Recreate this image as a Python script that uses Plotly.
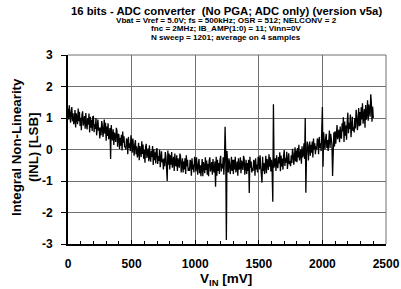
import numpy as np
import plotly.graph_objects as go

# Sweep input voltage (mV), 5 mV resolution of the reading
vin_start, vin_step, n_pts = 0, 5, 481
vin_mv = [vin_start + i * vin_step for i in range(n_pts)]

# INL values (LSB), 10 per 50 mV
inl_lsb = [
    1.30, 0.95, 1.40, 1.05, 0.85, 1.20, 1.35, 0.90, 1.15, 0.80,
    0.90, 1.25, 0.70, 1.15, 1.00, 0.80, 1.30, 0.90, 1.20, 0.75,
    1.01, 0.61, 1.11, 1.21, 0.76, 0.86, 1.06, 0.66, 1.16, 0.81,
    0.64, 0.99, 0.79, 1.14, 0.54, 1.04, 0.69, 0.94, 0.59, 1.04,
    1.05, 0.55, 0.80, 0.65, 1.00, 0.45, 0.90, 0.95, 0.60, 0.70,
    0.35, 0.70, 0.45, 0.90, 0.75, 0.40, 0.60, 0.95, 0.50, 0.85,
    0.28, 0.73, 0.43, 0.83, 0.33, 0.53, 0.68, -0.30, 0.78, 0.43,
    0.29, 0.64, 0.14, 0.54, 0.34, 0.24, 0.69, 0.59, 0.09, 0.49,
    0.47, 0.02, 0.37, 0.12, 0.47, -0.03, 0.57, 0.22, 0.42, 0.07,
    0.10, 0.00, 0.35, 0.30, -0.15, 0.40, 0.05, 0.20, -0.05, 0.45,
    0.25, -0.10, 0.35, 0.00, -0.20, 0.15, 0.30, -0.15, 0.10, -0.25,
    -0.14, 0.21, -0.34, 0.11, -0.04, -0.24, 0.26, -0.14, 0.16, -0.29,
    -0.02, -0.42, 0.08, 0.18, -0.27, -0.17, 0.03, -0.37, 0.13, -0.22,
    -0.39, -0.04, -0.24, 0.11, -0.49, 0.01, -0.34, -0.09, -0.44, 0.01,
    0.04, -0.46, -0.21, -0.36, -0.01, -0.56, -0.11, -0.06, -0.41, -0.31,
    -0.63, -0.28, -0.53, -0.08, -0.23, -0.58, -1.00, -0.03, -0.48, -0.13,
    -0.63, -0.18, -0.48, -0.08, -0.58, -0.38, -0.23, -0.68, -0.13, -0.48,
    -0.53, -0.18, -0.68, -0.28, -0.48, -0.58, -0.13, -0.23, -0.73, -0.33,
    -0.28, -0.73, -0.38, -0.63, -0.28, -0.78, -0.18, -0.53, -0.33, -0.68,
    -0.58, -0.68, -0.33, -0.38, -0.83, -0.28, -0.63, -0.48, -0.73, -0.23,
    -0.35, -0.70, -0.25, -0.60, -0.80, -0.45, -0.30, -0.75, -0.50, -0.85,
    -0.65, -0.30, -0.85, -0.40, -0.55, -0.75, -0.25, -0.65, -0.35, -0.80,
    -0.45, -0.85, -0.35, -0.25, -0.70, -0.60, -0.40, -0.80, -0.30, -0.65,
    -0.73, -0.38, -1.18, -0.23, -0.83, -0.33, -0.68, -0.43, -0.78, -0.33,
    -0.20, -0.70, -0.45, -0.60, -0.25, -0.80, -0.35, 0.72, -0.10, -2.87,
    -0.05, -0.48, -0.73, -0.28, -0.43, -0.78, -0.58, -0.23, -0.68, -0.33,
    -0.78, -0.33, -0.63, -0.23, -0.73, -0.53, -0.38, -0.83, -0.28, -0.63,
    -0.60, -0.25, -0.75, -0.35, -0.55, -0.65, -0.20, -0.30, -0.80, -0.40,
    -0.33, -0.78, -0.43, -0.68, -0.33, -1.38, -0.23, -0.58, -0.38, -0.73,
    -0.58, -0.68, -0.33, -0.38, -0.83, -0.28, -0.63, -0.48, -0.73, -0.23,
    -0.28, -0.63, -0.18, -0.53, -0.73, -1.05, -0.23, -0.68, -0.43, -0.78,
    -0.55, -0.20, -0.75, -0.30, -0.45, -0.65, -0.15, -0.55, -0.25, -0.70,
    -0.33, -0.73, -1.66, 1.44, -0.58, -0.48, -0.28, -0.68, -0.18, -0.53,
    -0.59, -0.24, -0.44, -0.09, -0.69, -0.19, -0.54, -0.29, -0.64, -0.19,
    -0.02, -0.52, -0.27, -0.42, -0.07, -0.62, -0.17, -0.12, -0.47, -0.37,
    -0.53, -0.18, -0.43, 0.02, -0.13, -0.48, -0.28, 0.07, -0.38, -0.03,
    -0.40, 0.05, -0.25, 0.15, -0.35, -0.15, 0.00, -0.45, 0.10, -0.25,
    -0.15, 0.20, -0.30, 1.00, -1.37, -0.20, 0.25, 0.15, -0.35, 0.05,
    0.25, -0.20, 0.15, -0.10, 0.25, -0.25, 0.35, 0.00, 0.20, -0.15,
    0.10, 0.00, 0.35, 0.30, -0.15, 0.40, 0.05, 0.20, -0.05, 0.45,
    1.35, -0.55, 0.55, 0.20, 0.00, 0.35, 0.50, 0.05, 0.30, -0.05,
    0.25, 0.60, 0.05, 0.50, 0.35, 0.15, -0.84, 0.25, 0.55, 0.10,
    0.58, 0.18, 0.68, 0.78, 0.33, 0.43, 0.63, 0.23, 0.73, 0.38,
    0.37, 0.83, 0.57, 1.02, 0.24, 0.89, 0.44, 0.76, 0.31, 0.89,
    1.17, 0.52, 0.85, 0.65, 1.11, 0.39, 0.98, 1.04, 0.59, 0.72,
    0.54, 1.00, 0.67, 1.26, 1.06, 0.61, 0.87, 1.32, 0.74, 1.19,
    0.76, 1.34, 0.95, 1.47, 0.82, 1.08, 1.28, 0.69, 1.41, 0.95,
    1.10, 1.56, 0.91, 1.43, 1.17, 1.04, 1.75, 1.49, 0.88, 1.36,
    1.00,
]

x_ticks = [0, 500, 1000, 1500, 2000, 2500]
y_ticks = [-3, -2, -1, 0, 1, 2, 3]

title_lines = [
    ("16 bits - ADC converter  (No PGA; ADC only) (version v5a)", 11.3),
    ("Vbat = Vref = 5.0V; fs = 500kHz; OSR = 512; NELCONV = 2", 8.1),
    ("fnc = 2MHz; IB_AMP(1:0) = 11; Vinn=0V", 8.1),
    ("N sweep = 1201; average on 4 samples", 8.1),
]
x_title = "V<sub>IN</sub> [mV]"
y_title = "Integral Non-Linearity<br>(INL) [LSB]"

FONT = "Liberation Sans, Arial, sans-serif"

L, R, T, B, W, H = 68, 15, 55, 45, 401, 289
PW, PH = W - L - R, H - T - B


def px_to_paper(px=None, py=None):
    return ((px - L) / PW if px is not None else None,
            (H - B - py) / PH if py is not None else None)


fig = go.Figure()
fig.add_trace(go.Scatter(x=vin_mv, y=inl_lsb, mode="lines",
                         line=dict(color="black", width=1.3), showlegend=False))

fig.update_layout(
    width=W, height=H,
    margin=dict(l=L, r=R, t=T, b=B, autoexpand=False),
    paper_bgcolor="white", plot_bgcolor="white",
    font=dict(family=FONT, color="black"),
)

fig.update_xaxes(
    range=[0, 2500], tickvals=x_ticks, ticktext=[f"<b>{v}</b>" for v in x_ticks],
    tickfont=dict(size=12), showgrid=True, gridcolor="#707070", gridwidth=1,
    showline=True, linecolor="black", linewidth=2,
    ticks="inside", ticklen=4, tickcolor="black", ticklabelstandoff=8,
    minor=dict(dtick=100, ticks="inside", ticklen=3, tickcolor="black", showgrid=False),
    automargin=False, zeroline=False,
)
fig.update_yaxes(
    range=[-3, 3], tickvals=y_ticks, ticktext=[f"<b>{v}</b>" for v in y_ticks],
    tickfont=dict(size=12), showgrid=True, gridcolor="#707070", gridwidth=1,
    showline=True, linecolor="black", linewidth=2,
    ticks="outside", ticklen=5, tickcolor="black", ticklabelstandoff=6,
    automargin=False, zeroline=False,
)

# top and right frame
fig.add_shape(type="line", xref="paper", yref="paper", x0=0, x1=1, y0=1, y1=1,
              line=dict(color="#707070", width=1))
fig.add_shape(type="line", xref="paper", yref="paper", x0=1, x1=1, y0=0, y1=1,
              line=dict(color="#707070", width=1))

title_px = [11, 20, 29, 38]
for (txt, sz), py in zip(title_lines, title_px):
    _, yp = px_to_paper(py=py)
    fig.add_annotation(text=f"<b>{txt}</b>", xref="paper", yref="paper",
                       x=0.497, y=yp, xanchor="center", yanchor="middle",
                       showarrow=False, font=dict(size=sz, family=FONT))

xp, yp = px_to_paper(px=226, py=279)
fig.add_annotation(text=f"<b>{x_title}</b>", xref="paper", yref="paper",
                   x=xp, y=yp, xanchor="center", yanchor="middle",
                   showarrow=False, font=dict(size=13.5, family=FONT))
xp, yp = px_to_paper(px=25, py=147)
fig.add_annotation(text=f"<b>{y_title}</b>", xref="paper", yref="paper",
                   x=xp, y=yp, xanchor="center", yanchor="middle", textangle=-90,
                   showarrow=False, font=dict(size=13.3, family=FONT))

fig.write_html("out.html", config={"displayModeBar": False},
               post_script="document.body.style.margin='0';")
